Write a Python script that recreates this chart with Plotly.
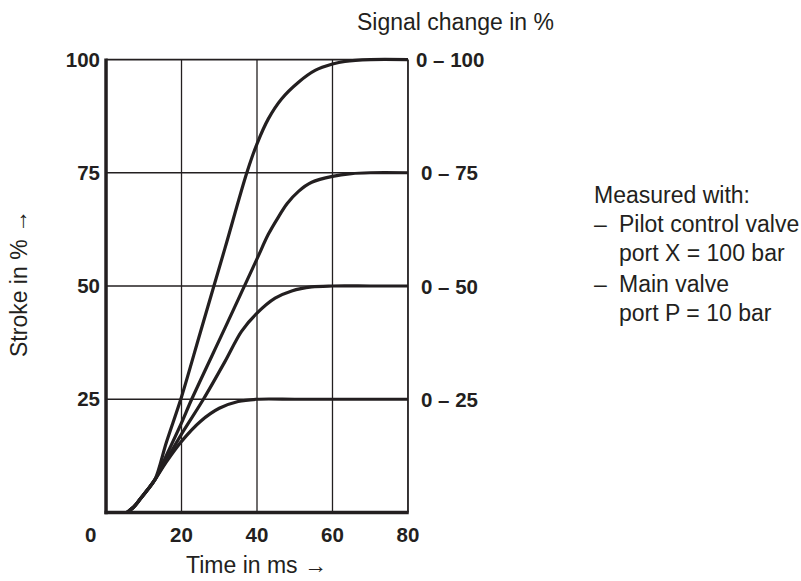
import plotly.graph_objects as go

# ---- data ----
time_common = [5.5, 7.2, 9, 11, 13]
stroke_common = [0, 1.1, 2.9, 5.0, 7.3]

time_25 = time_common + [16, 20, 25, 30, 35, 40, 50, 60, 70, 80]
stroke_25 = stroke_common + [11.2, 15.7, 20.1, 23.0, 24.5, 25, 25, 25, 25, 25]

time_50 = time_common + [16, 20, 25.8, 31.5, 35.9, 40, 44.8, 49.2, 54.5, 60, 70, 80]
stroke_50 = stroke_common + [11.6, 17.3, 25, 33.3, 40.0, 44, 47.3, 48.9, 49.8, 50, 50, 50]

time_75 = time_common + [16, 20, 22.7, 31.5, 40, 43, 45.5, 48, 51, 54.5, 60, 65, 70, 80]
stroke_75 = stroke_common + [12.6, 19.8, 25, 40.7, 56.0, 61.4, 65.0, 68.2, 70.9, 72.9, 74.2, 74.8, 75, 75]

time_100 = time_common + [16, 20, 25, 31.5, 37.3, 40, 43, 46.5, 51, 55.4, 60, 63.3, 70, 80]
stroke_100 = stroke_common + [15.5, 25.5, 39.8, 58.3, 75, 81.4, 86.9, 91.3, 95, 97.6, 99, 99.6, 100, 100]

x_ticks = [20, 40, 60, 80]
y_ticks = [25, 50, 75, 100]
signal_labels = ["0 – 25", "0 – 50", "0 – 75", "0 – 100"]
note_lines = ["Measured with:", "–", "Pilot control valve", "port X = 100 bar", "–", "Main valve", "port P = 10 bar"]

X_MAX, Y_MAX = 80, 100
INK = "#231f20"
FAMILY = "Liberation Sans, Arial, Helvetica, sans-serif"
BOLD_FONT = dict(family=FAMILY, size=20.5, color=INK, weight="bold")
REG_FONT = dict(family=FAMILY, size=23, color=INK)

fig = go.Figure()
for t, s in [(time_25, stroke_25), (time_50, stroke_50), (time_75, stroke_75), (time_100, stroke_100)]:
    fig.add_trace(go.Scatter(x=t, y=s, mode="lines",
                             line=dict(color=INK, width=3.2, shape="spline", smoothing=0.9),
                             hoverinfo="skip", showlegend=False))

shapes = []
for xv in x_ticks[:-1]:
    shapes.append(dict(type="line", xref="x", yref="y", x0=xv, x1=xv, y0=0, y1=Y_MAX,
                       line=dict(color=INK, width=1.3)))
for yv in y_ticks[:-1]:
    shapes.append(dict(type="line", xref="x", yref="y", x0=0, x1=X_MAX, y0=yv, y1=yv,
                       line=dict(color=INK, width=1.3)))
# frame
shapes.append(dict(type="line", xref="x", yref="y", x0=0, x1=X_MAX, y0=Y_MAX, y1=Y_MAX, line=dict(color=INK, width=1.8)))
shapes.append(dict(type="line", xref="x", yref="y", x0=X_MAX, x1=X_MAX, y0=0, y1=Y_MAX, line=dict(color=INK, width=1.8)))
shapes.append(dict(type="line", xref="x", yref="y", x0=0, x1=0, y0=-0.4, y1=Y_MAX + 0.2, line=dict(color=INK, width=3.5)))
shapes.append(dict(type="line", xref="x", yref="y", x0=-0.4, x1=X_MAX + 0.2, y0=0, y1=0, line=dict(color=INK, width=3.5)))

L, R, T, B = 103, 390, 54.5, 63.5
W, H = 801, 581
pw, ph = W - L - R, H - T - B


def paper(px, py):
    return (px - L) / pw, 1 - (py - T) / ph


ann = []
for yv, lab in zip(y_ticks, signal_labels):
    ann.append(dict(x=X_MAX, y=yv, xref="x", yref="y", text=lab, showarrow=False,
                    xanchor="center", yanchor="middle", xshift=42, font=BOLD_FONT))
ann.append(dict(x=0, y=0, xref="x", yref="y", text="0", showarrow=False,
                xanchor="center", yanchor="middle", xshift=-16, yshift=-22, font=BOLD_FONT))

for txt, px, py, ang in [("Signal change in %", 455, 21, 0), ("Time in ms →", 256, 566, 0),
                         ("Stroke in % →", 19, 284, -90)]:
    x, y = paper(px, py)
    ann.append(dict(x=x, y=y, xref="paper", yref="paper", text=txt, showarrow=False,
                    xanchor="center", yanchor="middle", textangle=ang, font=REG_FONT))

note_pos = [(592, 195), (592, 223.5), (617, 223.5), (617, 252.5), (592, 284), (617, 284), (617, 313.5)]
for txt, (px, py) in zip(note_lines, note_pos):
    x, y = paper(px, py)
    ann.append(dict(xref="paper", yref="paper", x=x, y=y, text=txt, showarrow=False,
                    xanchor="left", yanchor="middle", font=REG_FONT))

fig.update_layout(
    width=W, height=H,
    margin=dict(l=L, r=R, t=T, b=B, pad=0),
    paper_bgcolor="white", plot_bgcolor="white",
    shapes=shapes, annotations=ann,
    xaxis=dict(range=[-0.8, 80.8], tickvals=x_ticks, ticktext=[str(v) for v in x_ticks],
               showgrid=False, zeroline=False, showline=False, ticks="",
               ticklabelstandoff=3, tickfont=BOLD_FONT),
    yaxis=dict(range=[-1, 101], tickvals=y_ticks, ticktext=[str(v) for v in y_ticks],
               showgrid=False, zeroline=False, showline=False, ticks="",
               ticklabelstandoff=2, tickfont=BOLD_FONT),
)

fig.write_html("out.html", config={"displayModeBar": False, "staticPlot": True},
               post_script="document.body.style.margin='0';document.body.style.overflow='hidden';")
